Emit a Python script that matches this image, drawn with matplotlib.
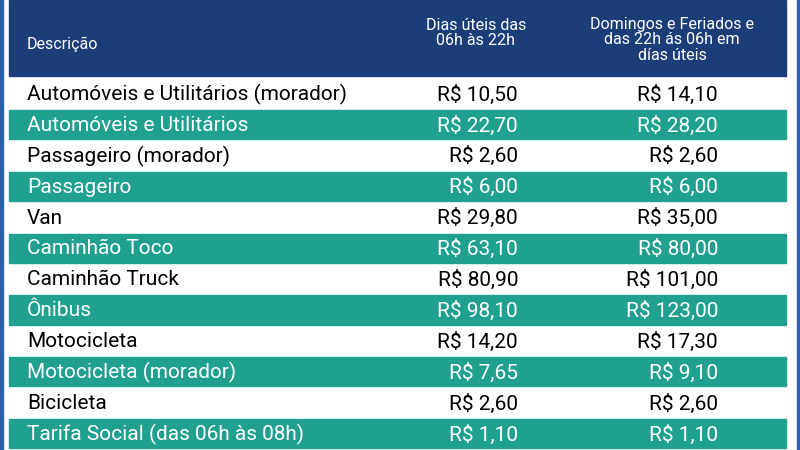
import matplotlib.pyplot as plt
from matplotlib.patches import Rectangle

headers = ["Descrição", "Dias úteis das\n06h às 22h", "Domingos e Feriados e\ndas 22h ás 06h em\ndías úteis"]
descricao = ["Automóveis e Utilitários (morador)", "Automóveis e Utilitários", "Passageiro (morador)",
             "Passageiro", "Van", "Caminhão Toco", "Caminhão Truck", "Ônibus", "Motocicleta",
             "Motocicleta (morador)", "Bicicleta", "Tarifa Social (das 06h às 08h)"]
dias_uteis = ["R$ 10,50", "R$ 22,70", "R$ 2,60", "R$ 6,00", "R$ 29,80", "R$ 63,10", "R$ 80,90",
              "R$ 98,10", "R$ 14,20", "R$ 7,65", "R$ 2,60", "R$ 1,10"]
domingos = ["R$ 14,10", "R$ 28,20", "R$ 2,60", "R$ 6,00", "R$ 35,00", "R$ 80,00", "R$ 101,00",
            "R$ 123,00", "R$ 17,30", "R$ 9,10", "R$ 2,60", "R$ 1,10"]

navy = "#1b3d78"
teal = "#20a08f"

fig = plt.figure(figsize=(8, 4.5), dpi=100)
ax = fig.add_axes([0, 0, 1, 1])
ax.set_xlim(0, 800)
ax.set_ylim(450, 0)
ax.axis("off")

# thin blue frame lines at the edges
ax.add_patch(Rectangle((0, 0), 2.5, 450, color="#2b5fa8"))
ax.add_patch(Rectangle((797, 0), 3, 450, color="#2b5fa8"))

x0, x1 = 9, 786
ax.add_patch(Rectangle((x0, 0), x1 - x0, 76, color=navy))
ax.text(27, 44, headers[0], color="white", fontsize=11.5, va="center", family="Roboto")
ax.text(476, 33, headers[1], color="white", fontsize=11.5, va="center", ha="center",
        family="Roboto", linespacing=1.05)
ax.text(672, 40, headers[2], color="white", fontsize=11.5, va="center", ha="center",
        family="Roboto", linespacing=1.05)

top, h = 78, 30.9
for i, (d, a, b) in enumerate(zip(descricao, dias_uteis, domingos)):
    y = top + i * h
    c = "black"
    if i % 2 == 1:
        ax.add_patch(Rectangle((x0, y + 1), x1 - x0, h - 1.5, color=teal))
        c = "white"
    yc = y + h / 2 + 1
    kw = dict(color=c, fontsize=15, va="center", family="Roboto")
    ax.text(27, yc, d, ha="left", **kw)
    ax.text(518, yc, a, ha="right", **kw)
    ax.text(718, yc, b, ha="right", **kw)

plt.savefig("out.png")
